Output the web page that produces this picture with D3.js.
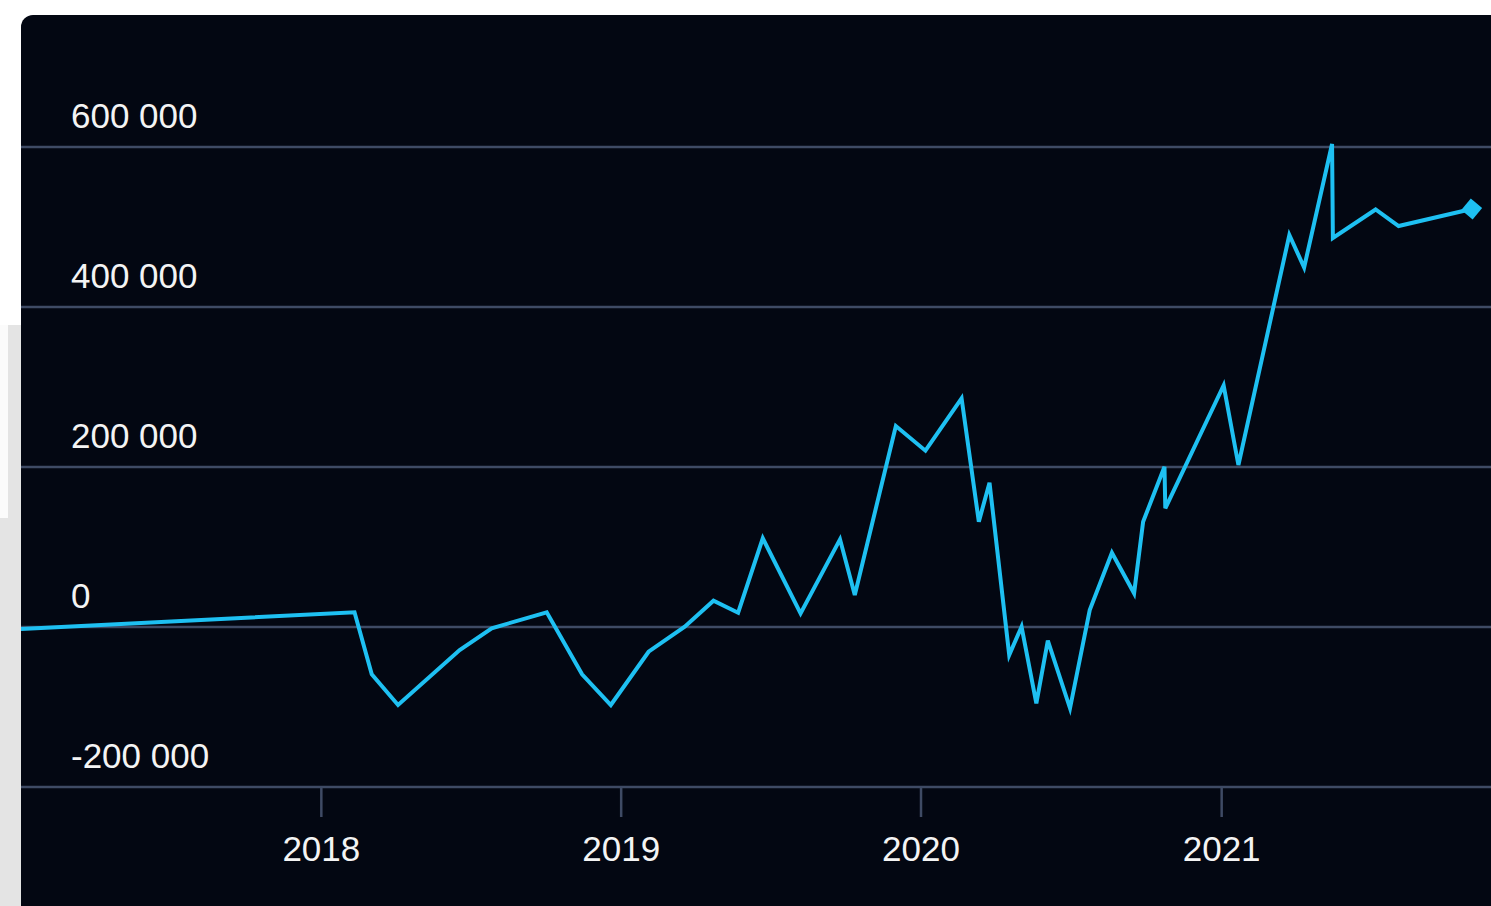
<!DOCTYPE html>
<html>
<head>
<meta charset="utf-8">
<script src="https://cdn.jsdelivr.net/npm/d3@7"></script>
<style>
  html, body { margin: 0; padding: 0; background: #ffffff; overflow: hidden; }
  svg { display: block; }
</style>
</head>
<body>
<svg id="chart" width="1491" height="906"></svg>
<script>
// data
var dates = [
  "2017-01-01", "2018-02-11", "2018-03-04", "2018-04-05", "2018-06-19", "2018-07-28",
  "2018-10-03", "2018-11-15", "2018-12-20", "2019-02-04", "2019-03-20", "2019-04-24",
  "2019-05-24", "2019-06-23", "2019-08-08", "2019-09-25", "2019-10-13", "2019-12-02",
  "2020-01-07", "2020-02-20", "2020-03-12", "2020-03-25", "2020-04-18", "2020-05-03",
  "2020-05-21", "2020-06-04", "2020-07-01", "2020-07-25", "2020-08-21", "2020-09-17",
  "2020-09-28", "2020-10-24", "2020-10-25", "2021-01-04", "2021-01-22", "2021-03-25",
  "2021-04-12", "2021-05-16", "2021-05-17", "2021-07-08", "2021-08-05", "2021-11-02"
];
var values = [
  -2500, 18400, -59100, -97500, -28750, -1600,
  18400, -59100, -97500, -30900, 400, 32900,
  17900, 110900, 17100, 109600, 40000, 251250,
  220400, 285900, 131600, 180400, -35000, 400,
  -95400, -17100, -101600, 21250, 92900, 42100,
  131600, 200400, 148400, 302000, 202500, 490000,
  449400, 603750, 486250, 521900, 501250, 522500
];
var yTicks = [-200000, 0, 200000, 400000, 600000];
var xTicks = ["2018-01-01", "2019-01-01", "2020-01-01", "2021-01-01"];

var parse = d3.timeParse("%Y-%m-%d");
var points = dates.map(function (d, i) { return { date: parse(d), value: values[i] }; });

var svg = d3.select("#chart");
var W = 1491, H = 906;
var panelX = 21, panelY = 15;
var font = "'Liberation Sans', Arial, Helvetica, sans-serif";

var locale = d3.formatLocale({ decimal: ",", thousands: " ", grouping: [3], currency: ["", ""], minus: "-" });
var fmt = locale.format(",d");

var x = d3.scaleTime()
  .domain([parse("2017-01-01"), parse("2022-01-01")])
  .range([21, 1521]);
var y = d3.scaleLinear()
  .domain([-200000, 600000])
  .range([787, 147]);

// page background bits on the left
svg.append("rect").attr("x", 0).attr("y", 325).attr("width", 21).attr("height", H - 325).attr("fill", "#e4e4e4");
svg.append("rect").attr("x", 0).attr("y", 325).attr("width", 8).attr("height", 193).attr("fill", "#fbfbfb");

// dark panel
svg.append("rect")
  .attr("x", panelX).attr("y", panelY)
  .attr("width", W - panelX + 20).attr("height", H - panelY + 20)
  .attr("rx", 12)
  .attr("fill", "#030712");

svg.append("clipPath").attr("id", "clip")
  .append("rect").attr("x", panelX).attr("y", panelY).attr("width", W - panelX).attr("height", H - panelY);

var g = svg.append("g").attr("clip-path", "url(#clip)");

// grid lines
g.selectAll("line.grid").data(yTicks).enter().append("line")
  .attr("class", "grid")
  .attr("x1", panelX).attr("x2", W)
  .attr("y1", function (d) { return y(d); })
  .attr("y2", function (d) { return y(d); })
  .attr("stroke", "#3e4a64")
  .attr("stroke-width", 2.5);

// y labels
g.selectAll("text.ylab").data(yTicks).enter().append("text")
  .attr("class", "ylab")
  .attr("x", 71)
  .attr("y", function (d) { return y(d) - 19; })
  .attr("fill", "#f4f4f4")
  .attr("font-family", font)
  .attr("font-size", 35)
  .text(function (d) { return fmt(d); });

// x axis ticks
var xAxis = d3.axisBottom(x)
  .tickValues(xTicks.map(parse))
  .tickSize(30)
  .tickPadding(19)
  .tickFormat(d3.timeFormat("%Y"));

var ax = g.append("g").attr("transform", "translate(0," + y(-200000) + ")").call(xAxis);
ax.select(".domain").remove();
ax.selectAll(".tick line").attr("stroke", "#3e4a64").attr("stroke-width", 2.5);
ax.selectAll(".tick text")
  .attr("fill", "#f4f4f4")
  .attr("font-family", font)
  .attr("font-size", 35);

// line
var line = d3.line()
  .x(function (d) { return x(d.date); })
  .y(function (d) { return y(d.value); });

g.append("path")
  .datum(points)
  .attr("d", line)
  .attr("fill", "none")
  .attr("stroke", "#1ec0f2")
  .attr("stroke-width", 4)
  .attr("stroke-linejoin", "miter");

// end marker
var last = points[points.length - 1];
g.append("path")
  .attr("d", d3.symbol().type(d3.symbolSquare).size(220)())
  .attr("transform", "translate(" + x(last.date) + "," + y(last.value) + ") rotate(40)")
  .attr("fill", "#1ec0f2");
</script>
</body>
</html>
